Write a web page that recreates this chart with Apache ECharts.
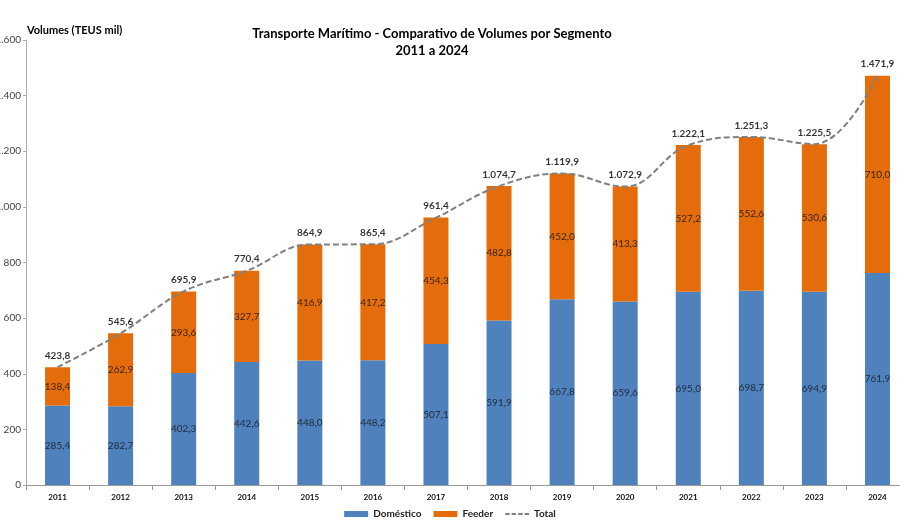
<!DOCTYPE html>
<html><head><meta charset="utf-8">
<script src="https://cdn.jsdelivr.net/npm/echarts@6/dist/echarts.min.js"></script>
<style>html,body{margin:0;padding:0;background:#fff}#c{width:900px;height:530px}</style>
</head><body><div id="c"></div>
<script>
const years = ['2011','2012','2013','2014','2015','2016','2017','2018','2019','2020','2021','2022','2023','2024'];
const domestico = [285.4, 282.7, 402.3, 442.6, 448.0, 448.2, 507.1, 591.9, 667.8, 659.6, 695.0, 698.7, 694.9, 761.9];
const feeder = [138.4, 262.9, 293.6, 327.7, 416.9, 417.2, 454.3, 482.8, 452.0, 413.3, 527.2, 552.6, 530.6, 710.0];
const total = [423.8, 545.6, 695.9, 770.4, 864.9, 865.4, 961.4, 1074.7, 1119.9, 1072.9, 1222.1, 1251.3, 1225.5, 1471.9];

function fmt(v, dec) {
  const s = Number(v).toFixed(dec);
  let [i, d] = s.split('.');
  i = i.replace(/\B(?=(\d{3})+(?!\d))/g, '.');
  return d ? i + ',' + d : i;
}
const FONT = 'Lato, "Open Sans", sans-serif';
const dashIcon = 'path://M0,0M24,6M0,2H4.5V4H0Z M6.5,2H11V4H6.5Z M13,2H17.5V4H13Z M19.5,2H24V4H19.5Z';
const chart = echarts.init(document.getElementById('c'));
chart.setOption({
  animation: false,
  textStyle: { fontFamily: FONT },
  title: [
    { text: 'Transporte Marítimo - Comparativo de Volumes por Segmento\n2011 a 2024', left: 427, top: 20, textAlign: 'center',
      textStyle: { fontSize: 13, fontWeight: 'bold', color: '#000', lineHeight: 17, fontFamily: FONT } },
    { text: 'Volumes (TEUS mil)', left: 22, top: 20, textStyle: { fontSize: 11, fontWeight: 'bold', color: '#000', fontFamily: FONT } }
  ],
  legend: {
    bottom: 6, left: 'center', itemGap: 12, itemWidth: 24, itemHeight: 6,
    textStyle: { fontSize: 10, fontWeight: 'bold', color: '#222', fontFamily: FONT },
    data: [{ name: 'Doméstico', icon: 'rect' }, { name: 'Feeder', icon: 'rect' }, { name: 'Total', icon: dashIcon }]
  },
  grid: { left: 26, right: -9, top: 40, bottom: 45, containLabel: false, outerBoundsMode: 'none' },
  xAxis: {
    type: 'category', data: years,
    axisLine: { lineStyle: { color: '#999' } },
    axisTick: { show: true, alignWithLabel: false, lineStyle: { color: '#999' } },
    axisLabel: { fontSize: 8, fontWeight: 'bold', color: '#111', margin: 8 }
  },
  yAxis: {
    type: 'value', min: 0, max: 1600, interval: 200,
    axisLine: { show: true, lineStyle: { color: '#aaa' } },
    axisTick: { show: true, length: 3, lineStyle: { color: '#aaa' } },
    splitLine: { show: false },
    axisLabel: { fontSize: 10, color: '#444', margin: 5, formatter: v => fmt(v, 0) }
  },
  series: [
    { name: 'Doméstico', type: 'bar', stack: 's', data: domestico, barWidth: 25,
      itemStyle: { color: '#4F81BD' },
      label: { show: true, position: 'inside', fontSize: 10, color: '#1f2a3a', formatter: p => fmt(p.value, 1) } },
    { name: 'Feeder', type: 'bar', stack: 's', data: feeder, barWidth: 25,
      itemStyle: { color: '#E46C0A' },
      label: { show: true, position: 'inside', fontSize: 10, color: '#3a2410', formatter: p => fmt(p.value, 1) } },
    { name: 'Total', type: 'line', data: total, smooth: 0.4, symbol: 'none', z: 5,
      lineStyle: { color: '#808080', width: 2, type: [6, 3] },
      itemStyle: { color: '#808080' } },
    { name: 'TotalLabels', type: 'scatter', data: total, symbol: 'circle', symbolSize: 1, z: 6,
      itemStyle: { color: 'rgba(0,0,0,0)' }, silent: true,
      label: { show: true, position: 'top', distance: 6, fontSize: 10, fontWeight: 'bold', color: '#000', formatter: p => fmt(p.value, 1) } }
  ]
});
</script></body></html>
